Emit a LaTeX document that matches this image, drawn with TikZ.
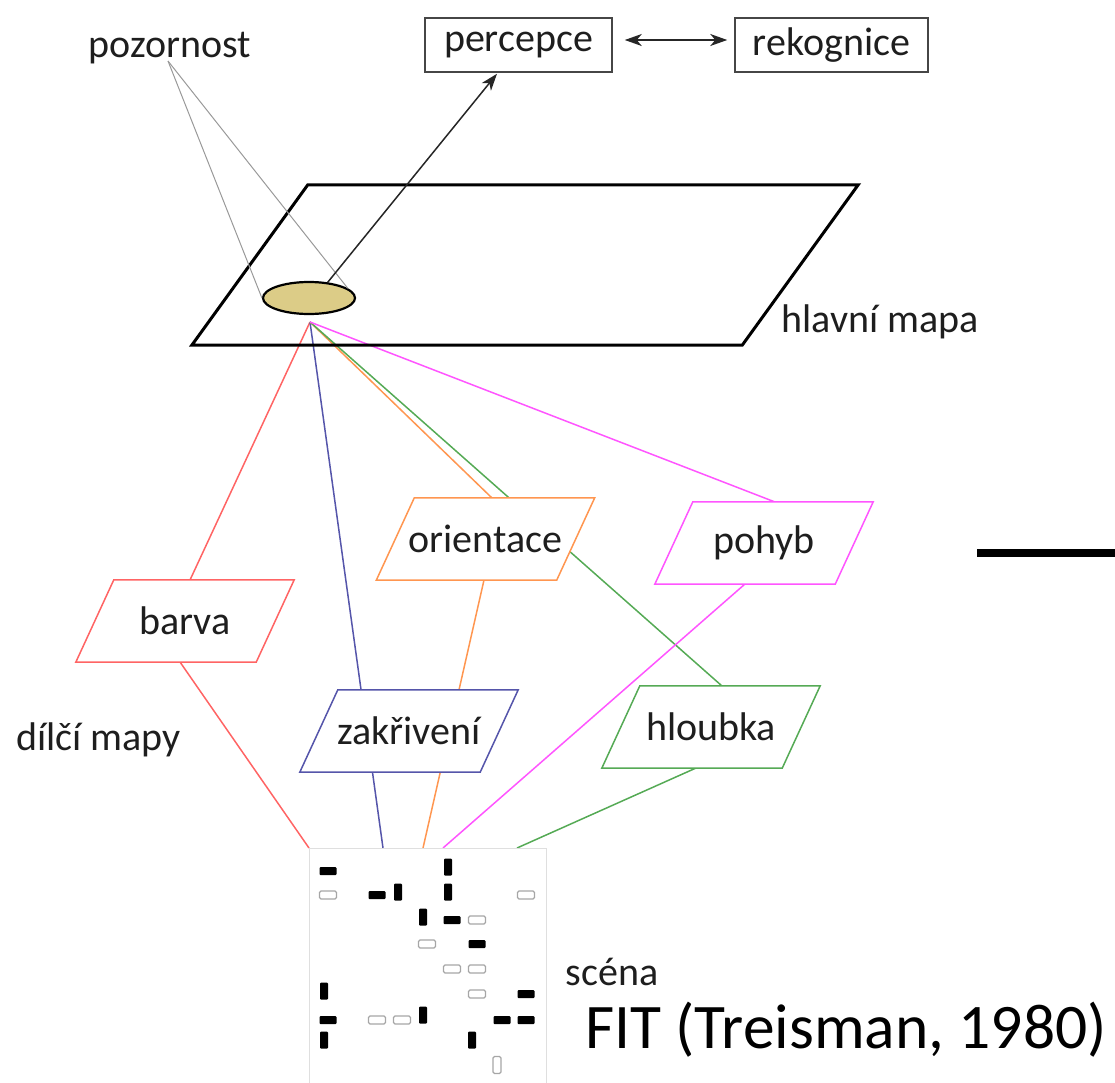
\documentclass[tikz,border=0pt]{standalone}
\usepackage{fontspec}
\setmainfont{Carlito}
\usetikzlibrary{shapes.geometric,arrows.meta,calc,backgrounds}
\definecolor{txt}{RGB}{30,30,30}
\definecolor{cred}{RGB}{255,100,100}
\definecolor{cblue}{RGB}{85,85,170}
\definecolor{corange}{RGB}{255,150,80}
\definecolor{cgreen}{RGB}{85,170,85}
\definecolor{cmag}{RGB}{255,85,255}
\definecolor{tan}{RGB}{220,204,135}
\definecolor{boxline}{RGB}{70,70,70}
\begin{document}
\begin{tikzpicture}[x=1pt,y=-1pt,
  every node/.style={font=\fontsize{40}{46}\selectfont, text=txt, inner sep=0pt},
  topbox/.style={draw=boxline, line width=1.5pt, rectangle, minimum height=54pt},
  submap/.style={rectangle, minimum width=218pt, minimum height=82pt},
  conn/.style={line width=1.5pt},
  thin/.style={draw=gray!80, line width=1pt},
  tip/.tip={Stealth[length=17pt,width=12pt,inset=5pt]},
  arr/.style={line width=1.5pt, draw=black!85, -tip},
  hb/.style={fill=black, rounded corners=1pt, minimum width=17pt, minimum height=8pt},
  vb/.style={fill=black, rounded corners=1pt, minimum width=8pt, minimum height=17pt},
  oh/.style={draw=gray!70, line width=1.3pt, rounded corners=1.5pt, minimum width=17pt, minimum height=8pt},
  ov/.style={draw=gray!70, line width=1.3pt, rounded corners=1.5pt, minimum width=8pt, minimum height=17pt}]
\useasboundingbox (0,0) rectangle (1115,1082);

% top
\node (poz) at (170,48) {pozornost};
\node[topbox, minimum width=187pt] (perc) at (518.5,45) {percepce};
\node[topbox, minimum width=193pt] (rek) at (831.5,45) {rekognice};

% main map (frame drawn below)
\node[rectangle, minimum width=666pt, minimum height=160pt] (main) at (525,265) {};
\node[ellipse, draw=black, line width=2.2pt, fill=tan, minimum width=92pt, minimum height=32pt] (ell) at (309,298) {};
\node (hlm) at (880,322) {hlavní mapa};

% sub maps
\node[submap] (barva) at (185,621) {barva};
\node[submap] (orient) at (485.5,539) {orientace};
\node[submap] (pohyb) at (764,543) {pohyb};
\node[submap] (zakr) at (409,731) {zakřivení};
\node[submap] (hloub) at (711,727) {hloubka};
\node (dilci) at (98.5,740) {dílčí mapy};

% scene
\node[draw=gray!25, line width=1pt, minimum width=237pt, minimum height=244pt] (scene) at (427.5,970) {};
\node (scena) at (612,972) {scéna};
\node[font=\fontsize{63.5}{70}\selectfont, text=black] (fit) at (846,1030) {FIT (Treisman, 1980)};

\foreach \x/\y in {328/871,377/895,452/920,477/944,526/994,328/1020,502/1020,526/1020}
  \node[hb] at (\x,\y) {};
\foreach \x/\y in {448/867,398/892,448/892,423/917,324/991,423/1015,324/1040,472/1040}
  \node[vb] at (\x,\y) {};
\foreach \x/\y in {328/895,526/895,477/920,427/944,452/969,477/969,477/994,377/1020,402/1020}
  \node[oh] at (\x,\y) {};
\node[ov] at (497,1065) {};

% coordinates
\coordinate (hub) at (310,322);
\coordinate (pz) at (168,61);
\coordinate (bar1) at (977,553);
\coordinate (bar2) at (1115,553);

% main frame
\draw[line width=3pt, line join=miter] ([xshift=116pt]main.north west) -- (main.north east)
  -- ([xshift=-116pt]main.south east) -- (main.south west) -- cycle;

% connectors
\draw[thin] (pz) -- (ell.west);
\draw[thin] (pz) -- (ell.14);
\draw[arr] (ell.40) -- ($(perc.south)+(-21.5,1)$);
\draw[arr, tip-tip] ($(perc.east)+(12,-5)$) -- ($(rek.west)+(-7,-5)$);
\draw[line width=8pt] (bar1) -- (bar2);

\begin{scope}[on background layer]
\draw[conn, cred] (hub) -- ($(barva)+(5,-41)$);
\draw[conn, cred] ($(barva)+(-5,41)$) -- ($(scene)+(-118.5,-122)$);
\draw[conn, cblue] (hub) -- ($(scene)+(-44.5,-122)$);
\draw[conn, corange] (hub) -- ($(orient)+(6.5,-41)$);
\draw[conn, corange] ($(orient)+(-1.5,41)$) -- ($(scene)+(-4.5,-122)$);
\draw[conn, cgreen] (hub) -- ($(hloub)+(11,-41)$);
\draw[conn, cgreen] ($(hloub)+(-15,41)$) -- ($(scene)+(89.5,-122)$);
\draw[conn, cmag] (hub) -- ($(pohyb)+(11,-41)$);
\draw[conn, cmag] ($(pohyb)+(-19,41)$) -- ($(scene)+(15.5,-122)$);
% sub map frames (white fill hides connectors behind them)
\foreach \n/\c in {barva/cred,orient/corange,pohyb/cmag,zakr/cblue,hloub/cgreen}
  \filldraw[fill=white, draw=\c, line width=1.5pt]
    ([xshift=38pt]\n.north west) -- (\n.north east) -- ([xshift=-38pt]\n.south east)
    -- (\n.south west) -- cycle;
\end{scope}
\end{tikzpicture}
\end{document}
